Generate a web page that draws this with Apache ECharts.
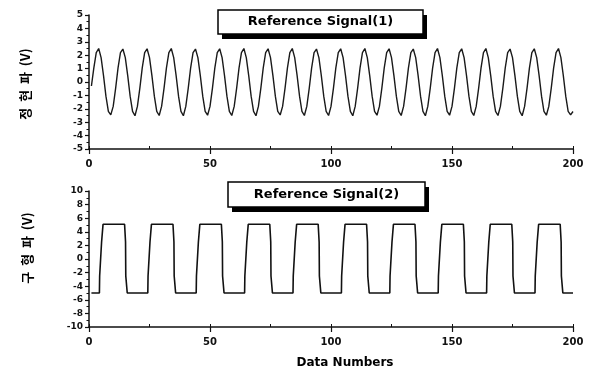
<!DOCTYPE html>
<html>
<head>
<meta charset="utf-8">
<script src="https://cdn.jsdelivr.net/npm/echarts@6/dist/echarts.min.js"></script>
<style>
  html, body { margin: 0; padding: 0; background: #fff; }
  #chart { width: 590px; height: 372px; }
</style>
</head>
<body>
<div id="chart"></div>
<script>
// Reference Signal(1): sine samples, x = 1..200
const sineY = [
  -0.30, 1.06, 2.19, 2.50, 1.82, 0.47, -1.06, -2.19, -2.45, -1.82,
  -0.47, 1.06, 2.19, 2.46, 1.82, 0.47, -1.06, -2.19, -2.52, -1.82,
  -0.47, 1.06, 2.19, 2.48, 1.82, 0.47, -1.06, -2.19, -2.50, -1.82,
  -0.47, 1.06, 2.19, 2.50, 1.82, 0.47, -1.06, -2.19, -2.52, -1.82,
  -0.47, 1.06, 2.19, 2.46, 1.82, 0.47, -1.06, -2.19, -2.48, -1.82,
  -0.47, 1.06, 2.19, 2.48, 1.82, 0.47, -1.06, -2.19, -2.50, -1.82,
  -0.47, 1.06, 2.19, 2.50, 1.82, 0.47, -1.06, -2.19, -2.52, -1.82,
  -0.47, 1.06, 2.19, 2.48, 1.82, 0.47, -1.06, -2.19, -2.46, -1.82,
  -0.47, 1.06, 2.19, 2.50, 1.82, 0.47, -1.06, -2.19, -2.50, -1.82,
  -0.47, 1.06, 2.19, 2.46, 1.82, 0.47, -1.06, -2.19, -2.50, -1.82,
  -0.47, 1.06, 2.19, 2.48, 1.82, 0.47, -1.06, -2.19, -2.52, -1.82,
  -0.47, 1.06, 2.19, 2.50, 1.82, 0.47, -1.06, -2.19, -2.48, -1.82,
  -0.47, 1.06, 2.19, 2.48, 1.82, 0.47, -1.06, -2.19, -2.50, -1.82,
  -0.47, 1.06, 2.19, 2.46, 1.82, 0.47, -1.06, -2.19, -2.52, -1.82,
  -0.47, 1.06, 2.19, 2.50, 1.82, 0.47, -1.06, -2.19, -2.48, -1.82,
  -0.47, 1.06, 2.19, 2.48, 1.82, 0.47, -1.06, -2.19, -2.50, -1.82,
  -0.47, 1.06, 2.19, 2.50, 1.82, 0.47, -1.06, -2.19, -2.50, -1.82,
  -0.47, 1.06, 2.19, 2.46, 1.82, 0.47, -1.06, -2.19, -2.52, -1.82,
  -0.47, 1.06, 2.19, 2.48, 1.82, 0.47, -1.06, -2.19, -2.48, -1.82,
  -0.47, 1.06, 2.19, 2.50, 1.82, 0.47, -1.06, -2.19, -2.45, -2.20
];

// Reference Signal(2): square wave breakpoints (x, y)
const squareX = [
  1,
  4.3, 4.4, 5.2, 5.8, 14.7, 15.1, 15.2, 15.8,
  24.3, 24.4, 25.2, 25.8, 34.7, 35.1, 35.2, 35.8,
  44.3, 44.4, 45.2, 45.8, 54.7, 55.1, 55.2, 55.8,
  64.3, 64.4, 65.2, 65.8, 74.7, 75.1, 75.2, 75.8,
  84.3, 84.4, 85.2, 85.8, 94.7, 95.1, 95.2, 95.8,
  104.3, 104.4, 105.2, 105.8, 114.7, 115.1, 115.2, 115.8,
  124.3, 124.4, 125.2, 125.8, 134.7, 135.1, 135.2, 135.8,
  144.3, 144.4, 145.2, 145.8, 154.7, 155.1, 155.2, 155.8,
  164.3, 164.4, 165.2, 165.8, 174.7, 175.1, 175.2, 175.8,
  184.3, 184.4, 185.2, 185.8, 194.7, 195.1, 195.2, 195.8,
  200
];
const squareY = [
  -5.0,
  -5.0, -2.5, 2.5, 5.1, 5.1, 2.5, -2.5, -5.0,
  -5.0, -2.5, 2.5, 5.1, 5.1, 2.5, -2.5, -5.0,
  -5.0, -2.5, 2.5, 5.1, 5.1, 2.5, -2.5, -5.0,
  -5.0, -2.5, 2.5, 5.1, 5.1, 2.5, -2.5, -5.0,
  -5.0, -2.5, 2.5, 5.1, 5.1, 2.5, -2.5, -5.0,
  -5.0, -2.5, 2.5, 5.1, 5.1, 2.5, -2.5, -5.0,
  -5.0, -2.5, 2.5, 5.1, 5.1, 2.5, -2.5, -5.0,
  -5.0, -2.5, 2.5, 5.1, 5.1, 2.5, -2.5, -5.0,
  -5.0, -2.5, 2.5, 5.1, 5.1, 2.5, -2.5, -5.0,
  -5.0, -2.5, 2.5, 5.1, 5.1, 2.5, -2.5, -5.0,
  -5.0
];

const xTicks = [0, 50, 100, 150, 200];
const titles = ['Reference Signal(1)', 'Reference Signal(2)'];
const yNames = ['정  현  파  (V)', '구  형  파  (V)'];
const xName = 'Data Numbers';

const INK = '#111';
const LATIN = '"DejaVu Sans", "Liberation Sans", sans-serif';

const chart = echarts.init(document.getElementById('chart'), null, { renderer: 'canvas' });

function mainX(gi) {
  return {
    type: 'value', gridIndex: gi, position: 'bottom', min: 0, max: 200, interval: 50,
    axisLine: { onZero: false, lineStyle: { color: INK, width: 1.5 } },
    axisTick: { length: 5, lineStyle: { color: INK, width: 1.2 } },
    axisLabel: {
      color: INK, fontFamily: LATIN, fontWeight: 'bold', fontSize: 10, margin: 10,
      formatter: v => (xTicks.includes(v) ? String(v) : '')
    },
    splitLine: { show: false }
  };
}
// inward small ticks every 25
function minorX(gi) {
  return {
    type: 'value', gridIndex: gi, position: 'bottom', min: 0, max: 200, interval: 25,
    axisLine: { show: false, onZero: false },
    axisTick: { inside: true, length: 3, lineStyle: { color: INK, width: 1 } },
    axisLabel: { show: false },
    splitLine: { show: false }
  };
}
function yAx(gi, lim, step) {
  return {
    type: 'value', gridIndex: gi, min: -lim, max: lim, interval: step,
    axisLine: { show: true, onZero: false, lineStyle: { color: INK, width: 1.5 } },
    axisTick: { show: true, length: 4, lineStyle: { color: INK, width: 1.2 } },
    minorTick: { show: true, splitNumber: 2, length: 2.5, lineStyle: { color: INK, width: 1 } },
    axisLabel: { color: INK, fontFamily: LATIN, fontWeight: 'bold', fontSize: 9, margin: 6 },
    splitLine: { show: false }
  };
}

function titleBox(x, y, w, h, text) {
  return [
    { type: 'rect', shape: { x: x + 4, y: y + 5, width: w, height: h }, style: { fill: '#000' }, z: 10 },
    { type: 'rect', shape: { x: x, y: y, width: w, height: h },
      style: { fill: '#fff', stroke: '#000', lineWidth: 1.5 }, z: 11 },
    { type: 'text', x: x + w / 2, y: y + h / 2, z: 12,
      style: { text: text, fill: '#000', font: 'bold 13px ' + LATIN, align: 'center', verticalAlign: 'middle' } }
  ];
}
function yName(x, y, text) {
  return { type: 'text', x: x, y: y, rotation: Math.PI / 2, z: 12,
    style: { text: text, fill: '#000', font: 'bold 13px "Noto Sans CJK KR", sans-serif',
      align: 'center', verticalAlign: 'middle' } };
}

chart.setOption({
  animation: false,
  backgroundColor: '#fff',
  grid: [
    { left: 89, top: 15, width: 484, height: 134 },
    { left: 89, top: 191, width: 484, height: 136 }
  ],
  xAxis: [mainX(0), minorX(0), mainX(1), minorX(1)],
  yAxis: [yAx(0, 5, 1), yAx(1, 10, 2)],
  series: [
    {
      type: 'line', xAxisIndex: 0, yAxisIndex: 0, showSymbol: false,
      data: sineY.map((v, i) => [i + 1, v]),
      lineStyle: { color: '#1a1a1a', width: 1.4 }
    },
    {
      type: 'line', xAxisIndex: 2, yAxisIndex: 1, showSymbol: false,
      data: squareX.map((x, i) => [x, squareY[i]]),
      lineStyle: { color: '#111', width: 1.6 }
    }
  ],
  graphic: [
    ...titleBox(218, 10, 205, 24, titles[0]),
    ...titleBox(228, 182, 197, 25, titles[1]),
    yName(25, 84, yNames[0]),
    yName(27, 248, yNames[1]),
    { type: 'text', x: 345, y: 363, z: 12,
      style: { text: xName, fill: '#000', font: 'bold 12px ' + LATIN, align: 'center', verticalAlign: 'middle' } }
  ]
});
</script>
</body>
</html>
